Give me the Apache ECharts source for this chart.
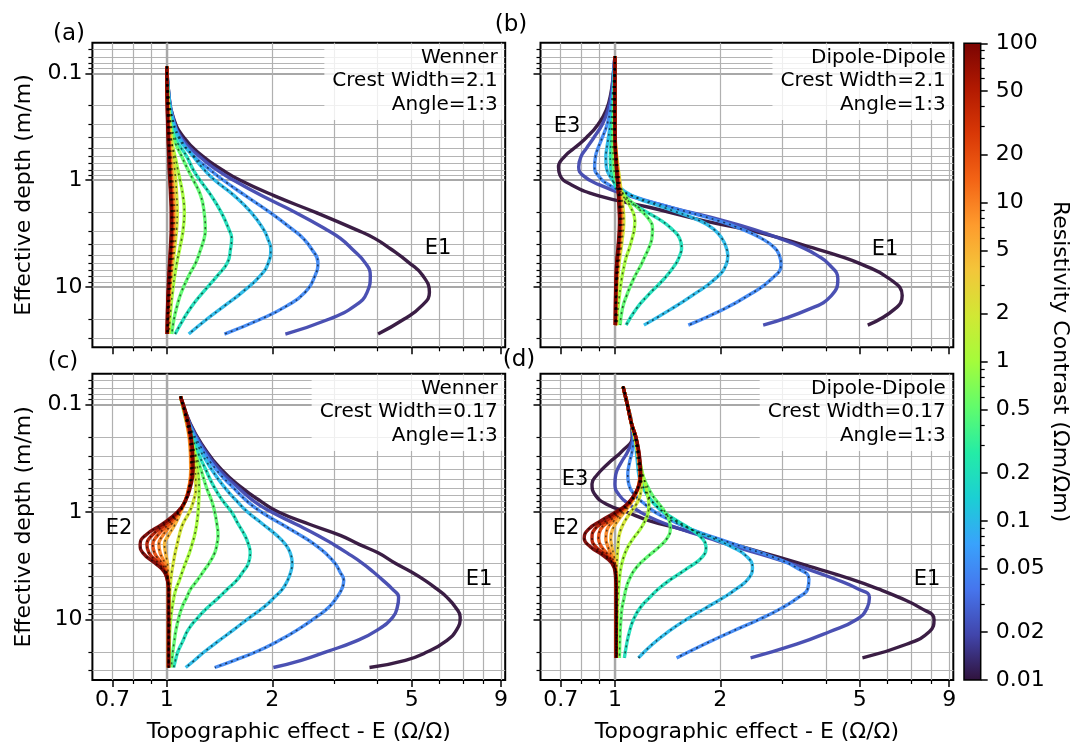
<!DOCTYPE html>
<html><head><meta charset="utf-8">
<script src="https://cdn.jsdelivr.net/npm/echarts@6/dist/echarts.min.js"></script>
<style>html,body{margin:0;padding:0;background:#fff}#c{width:1072px;height:746px}</style>
</head><body><div id="c"></div>
<script>
// ---------------- data ----------------
const contrasts = [0.01, 0.02, 0.05, 0.1, 0.2, 0.5, 1, 2, 5, 10, 20, 50, 100];

// (a) Wenner, crest width 2.1
const depthA = [0.086, 0.15, 0.25, 0.4, 0.6, 0.8, 1, 1.4, 2.0, 2.9, 3.5, 4.4, 5.9, 7.8, 11.2, 15, 20, 27.5];
const effectA = [
  [1.0, 1.012, 1.04, 1.12, 1.27, 1.44, 1.62, 2.03, 2.66, 3.47, 3.92, 4.36, 4.91, 5.38, 5.62, 5.34, 4.75, 4.01],
  [1.0, 1.012, 1.038, 1.10, 1.24, 1.39, 1.55, 1.87, 2.33, 2.86, 3.13, 3.38, 3.68, 3.81, 3.73, 3.44, 2.9, 2.18],
  [1.0, 1.01, 1.035, 1.09, 1.2, 1.33, 1.45, 1.68, 1.97, 2.29, 2.45, 2.59, 2.70, 2.65, 2.48, 2.2, 1.85, 1.46],
  [1.0, 1.011, 1.033, 1.08, 1.19, 1.28, 1.37, 1.56, 1.74, 1.89, 1.94, 1.98, 1.95, 1.85, 1.64, 1.46, 1.3, 1.155],
  [1.0, 1.007, 1.022, 1.056, 1.14, 1.19, 1.244, 1.34, 1.43, 1.505, 1.531, 1.52, 1.49, 1.395, 1.268, 1.18, 1.115, 1.056],
  [1.0, 1.004, 1.018, 1.045, 1.103, 1.15, 1.191, 1.25, 1.278, 1.288, 1.278, 1.25, 1.21, 1.156, 1.10, 1.07, 1.048, 1.033],
  [1.0, 1.002, 1.011, 1.026, 1.056, 1.075, 1.091, 1.112, 1.122, 1.113, 1.103, 1.088, 1.068, 1.053, 1.038, 1.028, 1.021, 1.015],
  [1.0, 1.006, 1.015, 1.03, 1.045, 1.053, 1.06, 1.067, 1.071, 1.066, 1.06, 1.052, 1.042, 1.033, 1.024, 1.017, 1.012, 1.01],
  [1.0, 1.004, 1.01, 1.02, 1.03, 1.035, 1.04, 1.048, 1.052, 1.05, 1.048, 1.042, 1.034, 1.027, 1.018, 1.012, 1.008, 1.006],
  [1.0, 1.003, 1.008, 1.015, 1.022, 1.027, 1.032, 1.038, 1.043, 1.042, 1.04, 1.035, 1.028, 1.022, 1.015, 1.01, 1.006, 1.004],
  [1.0, 1.002, 1.006, 1.012, 1.018, 1.022, 1.026, 1.032, 1.036, 1.036, 1.034, 1.03, 1.024, 1.018, 1.012, 1.008, 1.005, 1.003],
  [1.0, 1.002, 1.005, 1.01, 1.015, 1.018, 1.022, 1.028, 1.032, 1.032, 1.03, 1.026, 1.02, 1.015, 1.01, 1.006, 1.004, 1.002],
  [1.0, 1.001, 1.004, 1.008, 1.013, 1.016, 1.02, 1.025, 1.029, 1.029, 1.027, 1.023, 1.018, 1.013, 1.008, 1.005, 1.003, 1.002]
];

// (b) Dipole-Dipole, crest width 2.1
const depthB = [0.069, 0.1, 0.15, 0.22, 0.3, 0.4, 0.5, 0.6, 0.75, 0.9, 1.1, 1.4, 1.8, 2.4, 2.9, 3.5, 4.3, 5.1, 6.1, 8.4, 12, 16, 22.7];
const effectB = [
  [1.0, 0.99, 0.975, 0.945, 0.895, 0.828, 0.766, 0.718, 0.69, 0.697, 0.75, 0.90, 1.26, 1.8, 2.38, 2.98, 3.68, 4.36, 5.05, 6.09, 6.61, 6.3, 5.27],
  [1.0, 0.99, 0.978, 0.955, 0.92, 0.87, 0.83, 0.80, 0.788, 0.81, 0.9, 1.1, 1.45, 2.05, 2.5, 2.95, 3.45, 3.8, 4.08, 4.33, 4.15, 3.6, 2.65],
  [1.0, 0.993, 0.985, 0.97, 0.95, 0.92, 0.895, 0.88, 0.875, 0.895, 0.96, 1.12, 1.45, 1.98, 2.32, 2.62, 2.86, 2.95, 2.98, 2.8, 2.4, 2.05, 1.62],
  [1.0, 0.996, 0.99, 0.982, 0.97, 0.958, 0.948, 0.942, 0.945, 0.965, 1.01, 1.12, 1.38, 1.75, 1.92, 2.02, 2.08, 2.1, 2.08, 1.93, 1.66, 1.45, 1.21],
  [1.0, 0.997, 0.993, 0.988, 0.982, 0.976, 0.972, 0.97, 0.972, 0.98, 1.0, 1.05, 1.17, 1.36, 1.46, 1.53, 1.55, 1.53, 1.49, 1.38, 1.24, 1.15, 1.076],
  [1.0, 0.998, 0.996, 0.993, 0.99, 0.988, 0.987, 0.988, 0.992, 1.0, 1.02, 1.07, 1.16, 1.26, 1.28, 1.275, 1.25, 1.22, 1.19, 1.13, 1.08, 1.05, 1.035],
  [1.0, 0.999, 0.998, 0.997, 0.996, 0.996, 0.997, 1.0, 1.005, 1.012, 1.025, 1.06, 1.11, 1.14, 1.135, 1.12, 1.1, 1.08, 1.065, 1.045, 1.03, 1.02, 1.015],
  [1.0, 1.0, 1.0, 1.0, 1.0, 1.002, 1.006, 1.012, 1.02, 1.028, 1.036, 1.045, 1.055, 1.06, 1.057, 1.05, 1.042, 1.034, 1.027, 1.018, 1.012, 1.009, 1.007],
  [1.0, 1.0, 1.0, 1.0, 1.0, 1.002, 1.005, 1.01, 1.017, 1.024, 1.031, 1.038, 1.045, 1.048, 1.046, 1.04, 1.033, 1.027, 1.021, 1.014, 1.009, 1.007, 1.005],
  [1.0, 1.0, 1.0, 1.0, 1.0, 1.002, 1.004, 1.008, 1.014, 1.02, 1.026, 1.032, 1.038, 1.041, 1.039, 1.034, 1.028, 1.022, 1.017, 1.011, 1.007, 1.005, 1.004],
  [1.0, 1.0, 1.0, 1.0, 1.0, 1.001, 1.003, 1.007, 1.012, 1.017, 1.022, 1.028, 1.033, 1.036, 1.034, 1.03, 1.025, 1.019, 1.014, 1.009, 1.006, 1.004, 1.003],
  [1.0, 1.0, 1.0, 1.0, 1.0, 1.001, 1.003, 1.006, 1.01, 1.015, 1.02, 1.025, 1.03, 1.032, 1.031, 1.027, 1.022, 1.017, 1.012, 1.008, 1.005, 1.004, 1.003],
  [1.0, 1.0, 1.0, 1.0, 1.0, 1.001, 1.002, 1.005, 1.009, 1.013, 1.018, 1.023, 1.027, 1.03, 1.029, 1.025, 1.02, 1.015, 1.011, 1.007, 1.004, 1.003, 1.002]
];

// (c) Wenner, crest width 0.17
const depthC = [0.084, 0.15, 0.25, 0.4, 0.6, 0.8, 1, 1.3, 1.65, 2.0, 2.4, 3.0, 3.6, 4.35, 5.2, 6.2, 7.7, 9.5, 12.5, 16, 20, 24, 28];
const effectC = [
  [1.094, 1.166, 1.276, 1.428, 1.643, 1.861, 2.083, 2.553, 3.128, 3.54, 4.01, 4.49, 4.98, 5.47, 5.9, 6.3, 6.67, 6.88, 6.72, 6.25, 5.55, 4.8, 3.79],
  [1.094, 1.163, 1.267, 1.41, 1.606, 1.779, 1.991, 2.34, 2.70, 2.99, 3.27, 3.62, 3.88, 4.15, 4.4, 4.59, 4.55, 4.42, 4.0, 3.45, 2.85, 2.42, 2.014],
  [1.094, 1.158, 1.253, 1.381, 1.553, 1.70, 1.861, 2.13, 2.41, 2.64, 2.83, 3.02, 3.12, 3.2, 3.16, 3.06, 2.9, 2.67, 2.36, 2.07, 1.8, 1.56, 1.37],
  [1.094, 1.153, 1.234, 1.341, 1.468, 1.589, 1.70, 1.881, 2.06, 2.18, 2.25, 2.28, 2.26, 2.21, 2.14, 2.03, 1.89, 1.73, 1.55, 1.4, 1.28, 1.2, 1.132],
  [1.094, 1.148, 1.21, 1.29, 1.37, 1.45, 1.53, 1.6, 1.67, 1.71, 1.73, 1.71, 1.65, 1.58, 1.49, 1.41, 1.31, 1.23, 1.15, 1.11, 1.075, 1.058, 1.046],
  [1.094, 1.14, 1.19, 1.25, 1.3, 1.345, 1.37, 1.39, 1.40, 1.39, 1.37, 1.32, 1.27, 1.22, 1.17, 1.14, 1.105, 1.083, 1.062, 1.05, 1.04, 1.034, 1.03],
  [1.094, 1.15, 1.19, 1.225, 1.236, 1.233, 1.228, 1.217, 1.2, 1.18, 1.16, 1.13, 1.107, 1.085, 1.062, 1.048, 1.036, 1.027, 1.02, 1.017, 1.015, 1.014, 1.013],
  [1.094, 1.152, 1.183, 1.205, 1.21, 1.19, 1.16, 1.11, 1.085, 1.07, 1.056, 1.043, 1.033, 1.026, 1.021, 1.018, 1.015, 1.013, 1.012, 1.011, 1.011, 1.011, 1.011],
  [1.094, 1.140, 1.165, 1.170, 1.155, 1.128, 1.096, 1.056, 1.011, 0.985, 0.991, 1.004, 1.008, 1.01, 1.011, 1.011, 1.011, 1.011, 1.011, 1.011, 1.011, 1.011, 1.011],
  [1.094, 1.143, 1.168, 1.173, 1.155, 1.126, 1.087, 1.031, 0.974, 0.949, 0.957, 0.987, 1.0, 1.008, 1.011, 1.011, 1.011, 1.011, 1.011, 1.011, 1.011, 1.011, 1.011],
  [1.094, 1.145, 1.173, 1.178, 1.158, 1.126, 1.082, 1.011, 0.941, 0.912, 0.922, 0.968, 0.995, 1.007, 1.011, 1.011, 1.011, 1.011, 1.011, 1.011, 1.011, 1.011, 1.011],
  [1.094, 1.150, 1.178, 1.184, 1.160, 1.126, 1.077, 0.989, 0.907, 0.877, 0.889, 0.947, 0.988, 1.005, 1.011, 1.011, 1.011, 1.011, 1.011, 1.011, 1.011, 1.011, 1.011],
  [1.094, 1.155, 1.183, 1.189, 1.165, 1.128, 1.072, 0.968, 0.868, 0.839, 0.854, 0.926, 0.982, 1.004, 1.011, 1.011, 1.011, 1.011, 1.011, 1.011, 1.011, 1.011, 1.011]
];

// (d) Dipole-Dipole, crest width 0.17
const depthD = [0.068, 0.1, 0.15, 0.2, 0.27, 0.35, 0.45, 0.55, 0.7, 0.85, 1.0, 1.2, 1.45, 1.75, 2.1, 2.6, 3.3, 4.2, 5.2, 6.2, 7.8, 10, 13, 17, 22.8];
const effectD = [
  [1.055, 1.085, 1.115, 1.12, 1.05, 0.96, 0.89, 0.86, 0.88, 0.95, 1.08, 1.25, 1.55, 1.9, 2.3, 2.9, 3.7, 4.7, 5.65, 6.45, 7.45, 8.15, 7.9, 6.8, 5.09],
  [1.055, 1.085, 1.115, 1.125, 1.09, 1.04, 1.005, 1.0, 1.03, 1.1, 1.18, 1.32, 1.55, 1.85, 2.2, 2.75, 3.45, 4.25, 4.95, 5.33, 5.25, 4.9, 4.1, 3.3, 2.44],
  [1.055, 1.085, 1.115, 1.13, 1.12, 1.1, 1.088, 1.095, 1.14, 1.22, 1.3, 1.45, 1.65, 1.95, 2.3, 2.8, 3.3, 3.58, 3.55, 3.35, 3.0, 2.58, 2.15, 1.8, 1.50],
  [1.055, 1.085, 1.115, 1.14, 1.15, 1.16, 1.17, 1.19, 1.24, 1.3, 1.37, 1.48, 1.65, 1.9, 2.15, 2.38, 2.47, 2.4, 2.22, 2.05, 1.82, 1.6, 1.42, 1.28, 1.167],
  [1.055, 1.085, 1.115, 1.14, 1.16, 1.17, 1.18, 1.2, 1.24, 1.3, 1.38, 1.5, 1.65, 1.77, 1.82, 1.78, 1.62, 1.45, 1.33, 1.26, 1.18, 1.13, 1.1, 1.08, 1.064],
  [1.055, 1.085, 1.115, 1.14, 1.16, 1.18, 1.2, 1.23, 1.28, 1.34, 1.39, 1.43, 1.44, 1.41, 1.34, 1.24, 1.15, 1.1, 1.075, 1.063, 1.048, 1.04, 1.035, 1.032, 1.03],
  [1.055, 1.085, 1.115, 1.14, 1.16, 1.18, 1.2, 1.22, 1.24, 1.25, 1.245, 1.22, 1.18, 1.13, 1.09, 1.06, 1.04, 1.03, 1.024, 1.021, 1.018, 1.016, 1.015, 1.015, 1.015],
  [1.055, 1.085, 1.115, 1.14, 1.16, 1.175, 1.185, 1.19, 1.18, 1.15, 1.11, 1.07, 1.04, 1.025, 1.02, 1.015, 1.012, 1.01, 1.01, 1.01, 1.01, 1.01, 1.01, 1.01, 1.01],
  [1.055, 1.085, 1.115, 1.147, 1.162, 1.172, 1.178, 1.172, 1.145, 1.105, 1.065, 1.02, 0.985, 0.973, 0.98, 0.995, 1.005, 1.008, 1.008, 1.008, 1.008, 1.008, 1.008, 1.008, 1.008],
  [1.055, 1.085, 1.115, 1.147, 1.164, 1.174, 1.179, 1.171, 1.14, 1.095, 1.05, 0.995, 0.95, 0.942, 0.955, 0.98, 1.003, 1.007, 1.008, 1.008, 1.008, 1.008, 1.008, 1.008, 1.008],
  [1.055, 1.085, 1.115, 1.147, 1.166, 1.176, 1.181, 1.172, 1.137, 1.09, 1.035, 0.97, 0.91, 0.898, 0.915, 0.965, 1.0, 1.007, 1.008, 1.008, 1.008, 1.008, 1.008, 1.008, 1.008],
  [1.055, 1.085, 1.115, 1.147, 1.168, 1.178, 1.183, 1.173, 1.135, 1.085, 1.02, 0.945, 0.875, 0.86, 0.88, 0.95, 0.998, 1.006, 1.008, 1.008, 1.008, 1.008, 1.008, 1.008, 1.008],
  [1.055, 1.085, 1.115, 1.147, 1.17, 1.18, 1.185, 1.175, 1.134, 1.08, 1.006, 0.915, 0.84, 0.817, 0.85, 0.935, 0.995, 1.005, 1.008, 1.008, 1.008, 1.008, 1.008, 1.008, 1.008]
];

// tick values / labels
const xMajorTicks = [0.7, 1, 2, 5, 9];
const xMinorTicks = [0.8, 0.9, 3, 4, 6, 7, 8];
const yMajorTicks = [0.1, 1, 10];
const yMinorTicks = [0.06, 0.07, 0.08, 0.09, 0.2, 0.3, 0.4, 0.5, 0.6, 0.7, 0.8, 0.9, 2, 3, 4, 5, 6, 7, 8, 9, 20, 30];
const cbMajorTicks = [0.01, 0.02, 0.05, 0.1, 0.2, 0.5, 1, 2, 5, 10, 20, 50, 100];
const cbMinorTicks = [0.03, 0.04, 0.06, 0.07, 0.08, 0.09, 0.3, 0.4, 0.6, 0.7, 0.8, 0.9, 3, 4, 6, 7, 8, 9, 30, 40, 60, 70, 80, 90];
const panelNotes = [
  'Wenner\nCrest Width=2.1\nAngle=1:3',
  'Dipole-Dipole\nCrest Width=2.1\nAngle=1:3',
  'Wenner\nCrest Width=0.17\nAngle=1:3',
  'Dipole-Dipole\nCrest Width=0.17\nAngle=1:3'
];
const panelTags = ['(a)', '(b)', '(c)', '(d)'];
const xTitle = 'Topographic effect - E (Ω/Ω)';
const yTitle = 'Effective depth (m/m)';
const cbTitle = 'Resistivity Contrast (Ωm/Ωm)';

// ---------------- styling / layout ----------------
const FONT = '"DejaVu Sans", Verdana, sans-serif';
const turboStops = ['#30123B', '#4145AB', '#4675ED', '#39A2FC', '#1BCFD4', '#24ECA6', '#61FC6C', '#A4FC3B',
  '#D1E834', '#F3C63A', '#FE9B2D', '#F36315', '#D93806', '#B11901', '#7A0402'];
function hex2rgb(h) { return [1, 3, 5].map(i => parseInt(h.substr(i, 2), 16)); }
function turbo(t) {
  t = Math.max(0, Math.min(1, t));
  const f = t * (turboStops.length - 1);
  const i = Math.min(Math.floor(f), turboStops.length - 2);
  const u = f - i;
  const a = hex2rgb(turboStops[i]), b = hex2rgb(turboStops[i + 1]);
  const c = a.map((v, k) => Math.round(v + (b[k] - v) * u));
  return 'rgb(' + c.join(',') + ')';
}
function contrastColor(v) { return turbo((Math.log10(v) + 2) / 4); }
const fmt = v => String(parseFloat(Number(v).toPrecision(3)));

const XMIN = 0.613, XMAX = 9.25, YMIN = 0.0516, YMAX = 36.6;
const grids = [
  { left: 92.4, top: 42.7, width: 412.8, height: 304.6 },
  { left: 540.5, top: 42.7, width: 412.8, height: 304.6 },
  { left: 92.4, top: 373.7, width: 412.8, height: 306.3 },
  { left: 540.5, top: 373.7, width: 412.8, height: 306.3 }
];
const panelData = [[depthA, effectA], [depthB, effectB], [depthC, effectC], [depthD, effectD]];

const xAxes = [], yAxes = [], series = [], graphics = [];
grids.forEach((g, p) => {
  const bottomRow = p >= 2, leftCol = p % 2 === 0;
  xAxes.push({
    type: 'log', gridIndex: p, min: XMIN, max: XMAX, position: 'bottom',
    axisLine: { show: false, onZero: false },
    axisTick: { show: true, customValues: xMajorTicks, length: 7, lineStyle: { color: '#000', width: 1.5 } },
    axisLabel: { show: bottomRow, customValues: xMajorTicks, formatter: fmt, fontSize: 22, color: '#000', fontFamily: FONT, margin: 9 },
    splitLine: { show: true, lineStyle: { color: '#b0b0b0', width: 1.2 } },
    name: bottomRow ? xTitle : '', nameLocation: 'middle', nameGap: 41,
    nameTextStyle: { fontSize: 22, color: '#000', fontFamily: FONT }
  });
  xAxes.push({
    type: 'log', gridIndex: p, min: XMIN, max: XMAX, position: 'bottom',
    axisLine: { show: false, onZero: false },
    axisTick: { show: true, customValues: xMinorTicks, length: 4, lineStyle: { color: '#000', width: 1.2 } },
    axisLabel: { show: false },
    splitLine: { show: true, lineStyle: { color: '#b0b0b0', width: 1.2 } }
  });
  xAxes.push({
    type: 'log', gridIndex: p, min: XMIN, max: XMAX, position: 'bottom',
    axisLine: { show: false, onZero: false },
    axisTick: { show: false, customValues: [1] },
    axisLabel: { show: false },
    splitLine: { show: true, lineStyle: { color: '#a8a8a8', width: 2.4 } }
  });
  yAxes.push({
    type: 'log', gridIndex: p, min: YMIN, max: YMAX, inverse: true, position: 'left',
    axisLine: { show: false, onZero: false },
    axisTick: { show: true, customValues: yMajorTicks, length: 7, lineStyle: { color: '#000', width: 1.5 } },
    axisLabel: { show: leftCol, customValues: yMajorTicks, formatter: fmt, fontSize: 22, color: '#000', fontFamily: FONT, margin: 10 },
    splitLine: { show: true, lineStyle: { color: '#a8a8a8', width: 2.2 } },
    name: leftCol ? yTitle : '', nameLocation: 'middle', nameGap: 57, nameRotate: 90,
    nameTextStyle: { fontSize: 22, color: '#000', fontFamily: FONT }
  });
  yAxes.push({
    type: 'log', gridIndex: p, min: YMIN, max: YMAX, inverse: true, position: 'left',
    axisLine: { show: false, onZero: false },
    axisTick: { show: true, customValues: yMinorTicks, length: 4, lineStyle: { color: '#000', width: 1.2 } },
    axisLabel: { show: false },
    splitLine: { show: true, lineStyle: { color: '#b4b4b4', width: 1.1 } }
  });

  const [depth, eff] = panelData[p];
  eff.forEach((row, j) => {
    series.push({
      type: 'line', xAxisIndex: 3 * p, yAxisIndex: 2 * p, silent: true,
      data: row.map((e, k) => [e, depth[k]]),
      showSymbol: false, symbol: 'none', smooth: 0.5, z: 2,
      lineStyle: { color: contrastColor(contrasts[j]), width: 3.4, opacity: 0.95 }
    });
  });
  eff.forEach((row, j) => {
    if (j < 2) return;
    series.push({
      type: 'line', xAxisIndex: 3 * p, yAxisIndex: 2 * p, silent: true,
      data: row.map((e, k) => [e, depth[k]]),
      showSymbol: false, symbol: 'none', smooth: 0.5, z: 3,
      lineStyle: { color: '#000', width: 1.6, type: [2, 4], opacity: 0.6 }
    });
  });

  // annotation box
  graphics.push({
    type: 'text', z: 1, x: g.left + g.width - 1.5, y: g.top + 1.5,
    style: {
      text: panelNotes[p], align: 'right', verticalAlign: 'top',
      font: '20px ' + FONT, fill: '#000', lineHeight: 23.3,
      backgroundColor: 'rgba(255,255,255,0.8)', padding: [2, 6, 4, 8], borderRadius: 3
    }
  });
});

// colourbar grid
grids.push({ left: 964, top: 43.3, width: 16.7, height: 636.7 });
xAxes.push({ type: 'value', gridIndex: 4, min: 0, max: 1, show: false });
yAxes.push({
  type: 'log', gridIndex: 4, min: 0.01, max: 100, position: 'right',
  axisLine: { show: false, onZero: false },
  axisTick: { show: true, customValues: cbMajorTicks, length: 7, lineStyle: { color: '#000', width: 1.5 } },
  axisLabel: { show: true, customValues: cbMajorTicks, formatter: fmt, fontSize: 22, color: '#000', fontFamily: FONT, margin: 15 },
  splitLine: { show: false },
  name: cbTitle, nameLocation: 'middle', nameGap: 68, nameRotate: -90,
  nameTextStyle: { fontSize: 22, color: '#000', fontFamily: FONT }
});
yAxes.push({
  type: 'log', gridIndex: 4, min: 0.01, max: 100, position: 'right',
  axisLine: { show: false, onZero: false },
  axisTick: { show: true, customValues: cbMinorTicks, length: 4, lineStyle: { color: '#000', width: 1.2 } },
  axisLabel: { show: false }, splitLine: { show: false }
});
const cbGradient = turboStops.slice().reverse().map((c, i) => ({ offset: i / (turboStops.length - 1), color: c }));
series.push({
  type: 'custom', xAxisIndex: 12, yAxisIndex: 8, silent: true,
  data: [[0, 0.01, 1, 100]], encode: { x: [0, 2], y: [1, 3] },
  renderItem: (params, api) => {
    const p0 = api.coord([api.value(0), api.value(3)]);
    const p1 = api.coord([api.value(2), api.value(1)]);
    return {
      type: 'rect',
      shape: { x: p0[0], y: p0[1], width: p1[0] - p0[0], height: p1[1] - p0[1] },
      style: { fill: new echarts.graphic.LinearGradient(0, 0, 0, 1, cbGradient), stroke: '#000', lineWidth: 1.5 }
    };
  }
});

// panel tags and effect labels
const tagPos = [[69, 34], [511, 25], [63, 362], [519, 360]];
panelTags.forEach((t, i) => graphics.push({
  type: 'text', z: 10, x: tagPos[i][0], y: tagPos[i][1],
  style: { text: t, align: 'center', verticalAlign: 'middle', font: '23px ' + FONT, fill: '#000' }
}));
const effectLabels = [['E1', 438, 249], ['E1', 885, 250], ['E3', 567, 127], ['E1', 479, 580], ['E2', 119, 529],
  ['E1', 927, 580], ['E3', 575, 480], ['E2', 566, 529]];
effectLabels.forEach(([t, x, y]) => graphics.push({
  type: 'text', z: 10, x, y,
  style: { text: t, align: 'center', verticalAlign: 'middle', font: '21px ' + FONT, fill: '#000' }
}));

const chart = echarts.init(document.getElementById('c'), null, { renderer: 'canvas' });
chart.setOption({
  animation: false,
  backgroundColor: '#fff',
  grid: grids.map((g, i) => Object.assign({ show: true, borderColor: '#000', borderWidth: i < 4 ? 2 : 0, backgroundColor: 'transparent' }, g)),
  xAxis: xAxes,
  yAxis: yAxes,
  series: series,
  graphic: { elements: graphics }
});
</script>
</body></html>
